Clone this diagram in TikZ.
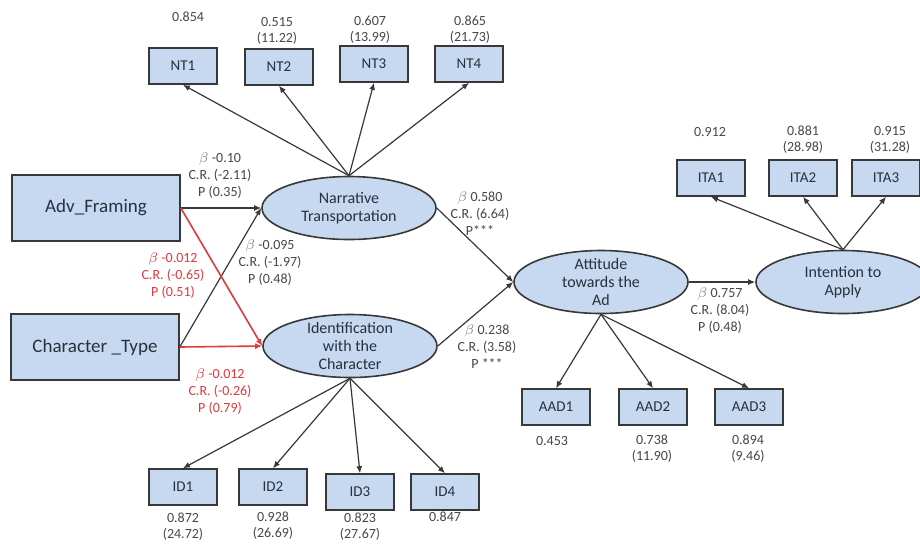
\documentclass[tikz,border=0pt]{standalone}
\usepackage{fontspec}
\setmainfont{Carlito}
\usetikzlibrary{shapes.geometric, arrows.meta, positioning}
\definecolor{boxF}{HTML}{C6D9F0}
\definecolor{lineD}{HTML}{383838}
\definecolor{textD}{HTML}{27313D}
\definecolor{labG}{HTML}{474747}
\definecolor{betaG}{HTML}{8A8A8A}
\definecolor{redA}{HTML}{E0393E}

\begin{document}
\begin{tikzpicture}[
  x=0.5pt, y=-0.5pt,
  exobox/.style={
    draw=lineD, fill=boxF, line width=0.8pt,
    font=\fontsize{9.5}{11}\selectfont, text=textD,
    minimum width=84pt, minimum height=33pt
  },
  latent/.style={
    ellipse, draw=lineD, fill=boxF, line width=0.8pt,
    font=\fontsize{8}{9}\selectfont, text=textD,
    align=center, inner sep=-2.5pt,
    minimum width=87pt, minimum height=31.5pt
  },
  indbox/.style={
    draw=lineD, fill=boxF, line width=0.8pt,
    font=\fontsize{7.5}{9}\selectfont, text=textD,
    minimum width=34pt, minimum height=18pt
  },
  load/.style={font=\fontsize{7}{8}\selectfont, text=labG, align=center, inner sep=0pt},
  coef/.style={font=\fontsize{7}{8.5}\selectfont, text=#1, align=center, inner sep=0pt},
  coef/.default=labG,
  arr/.style={-{Latex[length=3.5pt,width=3pt]}, line width=0.6pt, lineD},
  rarr/.style={-{Latex[length=3.5pt,width=3pt]}, line width=0.8pt, redA}
]
\useasboundingbox (0,0) rectangle (920,543);
\clip (0,0) rectangle (920,543);
\fill[white] (0,0) rectangle (920,543);

%% ═══ EXOGENOUS ═══
\node[exobox] (adv) at (96,208) {Adv\_Framing};
\node[exobox] (chr) at (95,347) {Character \_Type};

%% ═══ LATENT CONSTRUCTS ═══
\node[latent] (nt)  at (349,208) {Narrative\\Transportation};
\node[latent] (idc) at (350,346) {Identification\\with the\\Character};
\node[latent] (att) at (601,282) {Attitude\\towards the\\Ad};
\node[latent] (ita) at (843,282) {Intention to\\Apply};

%% ═══ INDICATORS ═══
\node[indbox] (nt1) at (183,66) {NT1};
\node[indbox] (nt2) at (279,67) {NT2};
\node[indbox] (nt3) at (374,64) {NT3};
\node[indbox] (nt4) at (469,64) {NT4};

\node[indbox] (ita1) at (711,178) {ITA1};
\node[indbox] (ita2) at (803,178) {ITA2};
\node[indbox] (ita3) at (886,178) {ITA3};

\node[indbox] (aad1) at (556,407) {AAD1};
\node[indbox] (aad2) at (653,407) {AAD2};
\node[indbox] (aad3) at (749,407) {AAD3};

\node[indbox] (id1) at (183,487) {ID1};
\node[indbox] (id2) at (273,487) {ID2};
\node[indbox] (id3) at (360,492) {ID3};
\node[indbox] (id4) at (445,492) {ID4};

%% loadings
\node[load] (l-nt1) at (188,17) {0.854};
\node[load] (l-nt2) at (277,31) {0.515\\(11.22)};
\node[load] (l-nt3) at (370,30) {0.607\\(13.99)};
\node[load] (l-nt4) at (470,30) {0.865\\(21.73)};
\node[load] (l-ita1) at (710,132) {0.912};
\node[load] (l-ita2) at (803,140) {0.881\\(28.98)};
\node[load] (l-ita3) at (890,140) {0.915\\(31.28)};
\node[load] (l-aad1) at (552,441) {0.453};
\node[load] (l-aad2) at (652,449) {0.738\\(11.90)};
\node[load] (l-aad3) at (748,449) {0.894\\(9.46)};
\node[load] (l-id1) at (183,527) {0.872\\(24.72)};
\node[load] (l-id2) at (273,526) {0.928\\(26.69)};
\node[load] (l-id3) at (360,527) {0.823\\(27.67)};
\node[load] (l-id4) at (445,517) {0.847};

%% ═══ PATHS ═══
\draw[arr] (adv.east) -- (nt.west);
\draw[arr] (chr.east) -- (nt.west);
\draw[rarr] (adv.east) -- (idc.west);
\draw[rarr] (chr.east) -- (idc.west);
\draw[arr] (nt.east) -- (att.west);
\draw[arr] (idc.east) -- (att.west);
\draw[arr] (att.east) -- (ita.west);

\node[coef] (c-adv-nt) at (220,176)
  {{\color{betaG}$\beta$} -0.10\\C.R. (-2.11)\\P (0.35)};
\node[coef=redA] (c-adv-id) at (173,276)
  {$\beta$ -0.012\\C.R. (-0.65)\\P (0.51)};
\node[coef] (c-chr-nt) at (270,263)
  {{\color{betaG}$\beta$} -0.095\\C.R. (-1.97)\\P (0.48)};
\node[coef=redA] (c-chr-id) at (220,392)
  {$\beta$ -0.012\\C.R. (-0.26)\\P (0.79)};
\node[coef] (c-nt-att) at (480,214)
  {{\color{betaG}$\beta$} 0.580\\C.R. (6.64)\\P***};
\node[coef] (c-id-att) at (487,347)
  {{\color{betaG}$\beta$} 0.238\\C.R. (3.58)\\P ***};
\node[coef] (c-att-ita) at (720,311)
  {{\color{betaG}$\beta$} 0.757\\C.R. (8.04)\\P (0.48)};

%% ═══ MEASUREMENT ARROWS ═══
\foreach \k in {1,2,3,4} {
  \draw[arr] (nt.north) -- (nt\k.south);
  \draw[arr] (idc.south) -- (id\k.north);
}
\foreach \k in {1,2,3} {
  \draw[arr] (att.south) -- (aad\k.north);
  \draw[arr] (ita.north) -- (ita\k.south);
}

\end{tikzpicture}
\end{document}
